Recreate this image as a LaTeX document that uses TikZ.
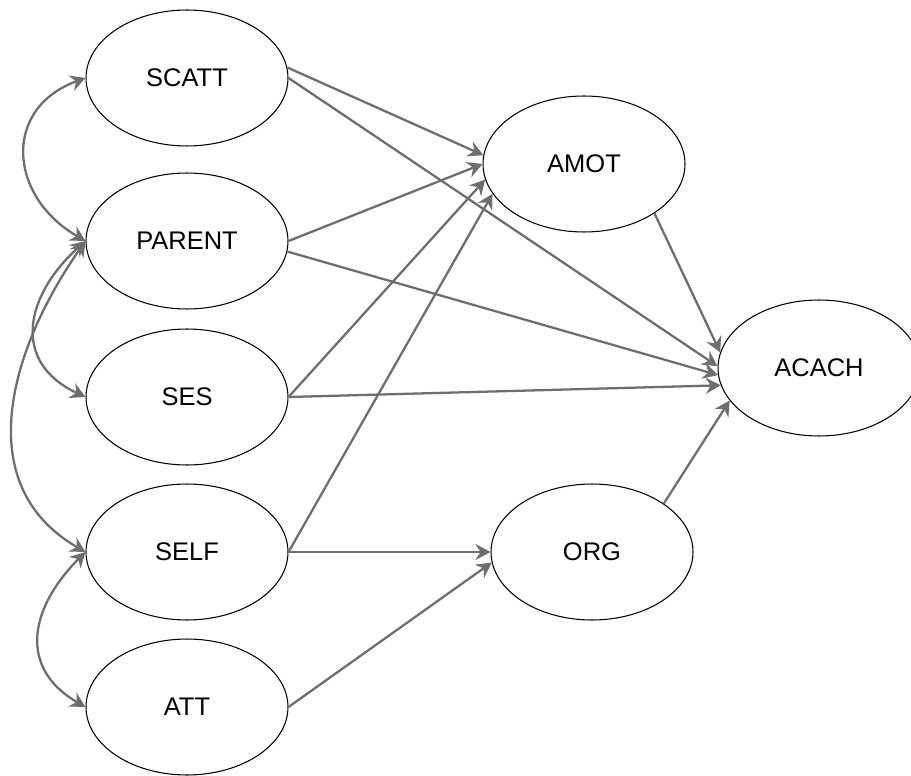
\documentclass[tikz,border=0pt]{standalone}
\usepackage{fontspec}
\setmainfont{Liberation Sans}
\usepackage{tikz}
\usetikzlibrary{arrows.meta, shapes.geometric}
\definecolor{arrowgray}{RGB}{110,110,110}

\begin{document}
\begin{tikzpicture}[x=0.02cm, y=-0.02cm,
        var/.style={ellipse, draw, line width=0.6pt, minimum width=4.04cm, minimum height=2.72cm, inner sep=0pt, font=\fontsize{14.5}{16}\selectfont},
        reg/.style={-{Stealth[length=0.3cm, width=0.32cm, inset=0.1cm]}, draw=arrowgray, fill=arrowgray, line width=1.3pt},
        cov/.style={{Stealth[length=0.3cm, width=0.32cm, inset=0.1cm]}-{Stealth[length=0.3cm, width=0.32cm, inset=0.1cm]}, draw=arrowgray, line width=1.3pt}]
        \useasboundingbox (0,0) rectangle (911,776);

        \node[var] at (187, 78)   (scatt)  {SCATT};
        \node[var] at (187, 241)  (parent) {PARENT};
        \node[var] at (187, 397)  (ses)    {SES};
        \node[var] at (187, 552)  (self)   {SELF};
        \node[var] at (187, 707)  (att)    {ATT};
        \node[var] at (584, 164)  (amot)   {AMOT};
        \node[var] at (592, 552)  (org)    {ORG};
        \node[var] at (819, 368)  (acach)  {ACACH};

        % correlations
        \draw [cov] (scatt.west) to[out=200, in=150, looseness=1.4] (parent.west);
        \draw [cov] (parent.west) to[out=222, in=155, looseness=1.35] (ses.west);
        \draw [cov] (parent.west) to[out=235, in=150, looseness=1.1] (self.west);
        \draw [cov] (self.west) to[out=225, in=150, looseness=1.3] (att.west);

        % paths
        \draw [reg] (scatt.6) -- (amot.175);
        \draw [reg] (scatt.east) -- (acach.179);
        \draw [reg] (parent.east) -- (amot.west);
        \draw [reg] (parent.-6) -- (acach.184);
        \draw [reg] (ses.east) -- (amot.189);
        \draw [reg] (ses.east) -- (acach.190);
        \draw [reg] (self.east) -- (amot.198);
        \draw [reg] (self.east) -- (org.west);
        \draw [reg] (att.east) -- (org.186);
        \draw [reg] (amot.-35) -- (acach.171);
        \draw [reg] (org.34) -- (acach.200);
    \end{tikzpicture}
\end{document}
